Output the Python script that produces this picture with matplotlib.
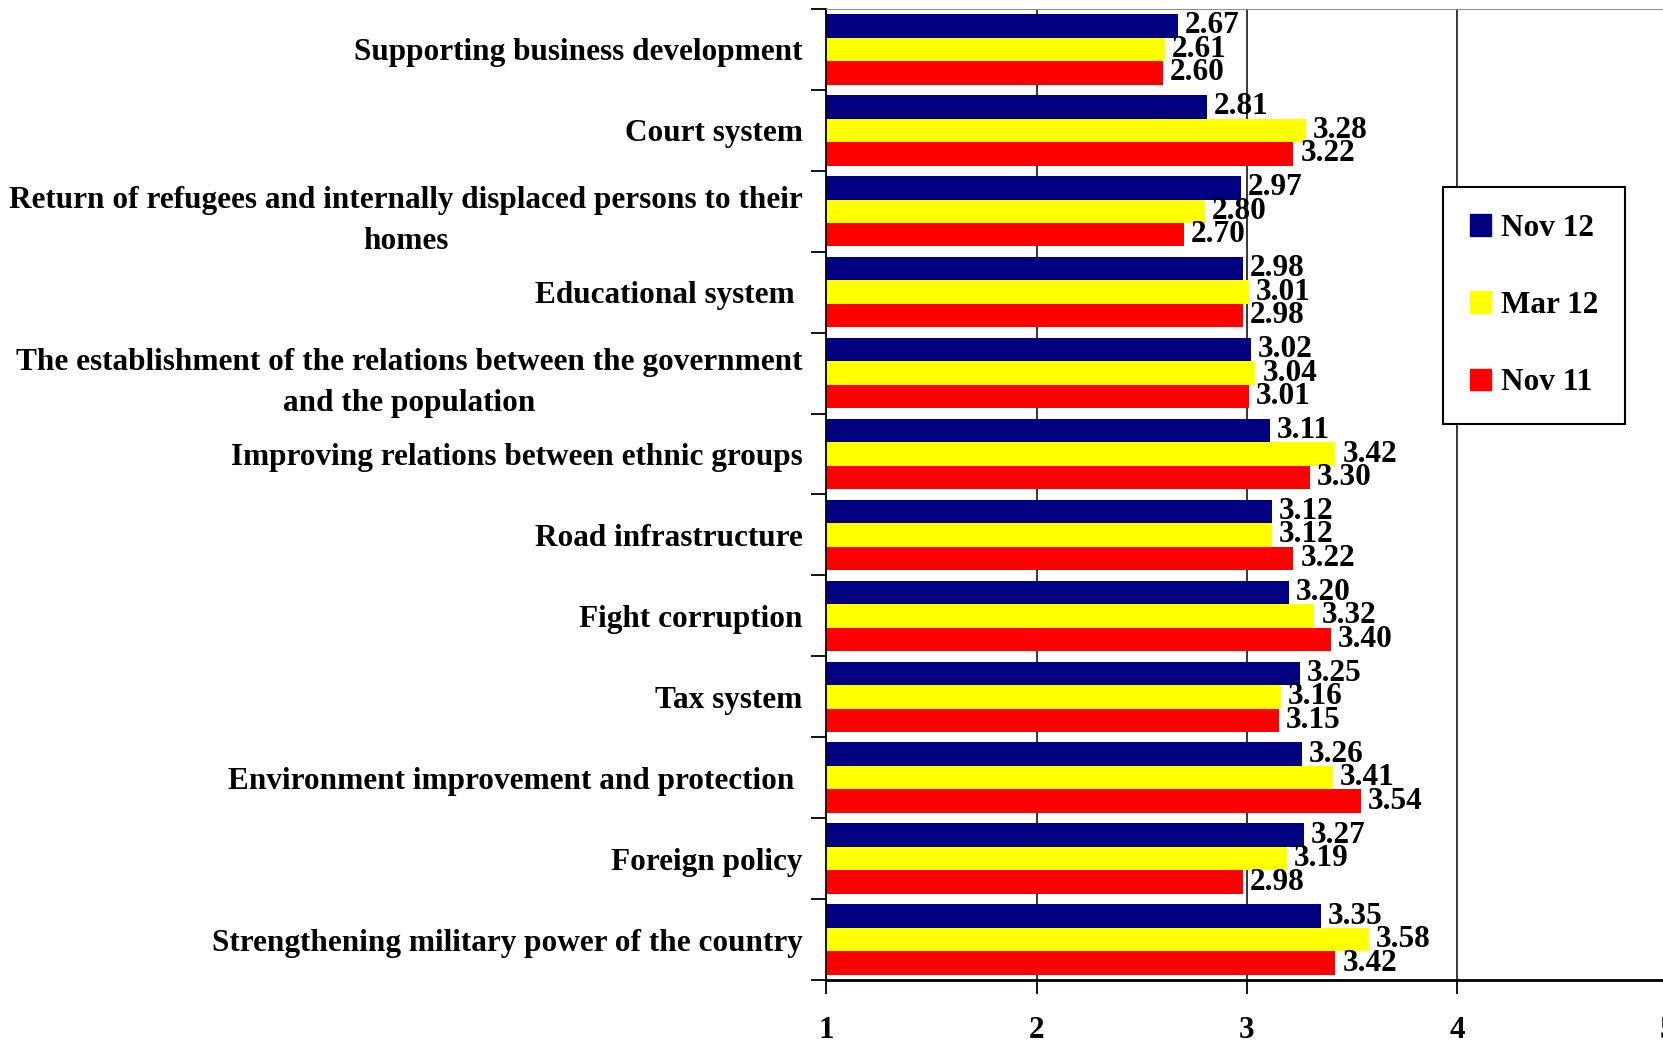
"""Mean ratings of government performance areas, three survey waves (horizontal bars)."""
import matplotlib
matplotlib.use("Agg")
import matplotlib.pyplot as plt
import numpy as np
from matplotlib.patches import Patch

categories = [
    "Supporting business development",
    "Court system",
    "Return of refugees and internally displaced persons to their\nhomes",
    "Educational system ",
    "The establishment of the relations between the government\nand the population",
    "Improving relations between ethnic groups",
    "Road infrastructure",
    "Fight corruption",
    "Tax system",
    "Environment improvement and protection ",
    "Foreign policy",
    "Strengthening military power of the country",
]
nov12 = [2.67, 2.81, 2.97, 2.98, 3.02, 3.11, 3.12, 3.20, 3.25, 3.26, 3.27, 3.35]
mar12 = [2.61, 3.28, 2.80, 3.01, 3.04, 3.42, 3.12, 3.32, 3.16, 3.41, 3.19, 3.58]
nov11 = [2.60, 3.22, 2.70, 2.98, 3.01, 3.30, 3.22, 3.40, 3.15, 3.54, 2.98, 3.42]
series = [("Nov 12", nov12, "#000080"), ("Mar 12", mar12, "#FFFF00"), ("Nov 11", nov11, "#FF0000")]
x_ticks = [1, 2, 3, 4, 5]

plt.rcParams["font.family"] = ["Liberation Serif", "DejaVu Serif"]
plt.rcParams["font.weight"] = "bold"
FS = 22.5

fig = plt.figure(figsize=(16.63, 10.41), dpi=100)
ax = fig.add_axes([0.4967, 0.0586, 0.5063, 0.9328])

y = np.arange(len(categories))
h = 0.29
for k, (name, vals, col) in enumerate(series):
    vals = np.array(vals)
    bars = ax.barh(y + (k - 1) * h, vals - 1, left=1, height=h, color=col, label=name)
    ax.bar_label(bars, labels=[f"{v:.2f}" for v in vals], padding=5,
                 fontsize=FS, fontweight="bold", clip_on=False)

ax.set_xlim(1, 5)
ax.set_ylim(len(categories) - 0.5, -0.5)
ax.set_xticks(x_ticks)
ax.set_xticklabels([str(t) for t in x_ticks], fontsize=FS, fontweight="bold")
ax.tick_params(axis="x", direction="out", length=10, width=1.3, pad=16)

# ticks at category boundaries, labels at centres
ax.set_yticks(np.arange(len(categories) + 1) - 0.5)
ax.set_yticklabels([])
ax.tick_params(axis="y", which="major", direction="out", length=11, width=1.3)
ax.set_yticks(y, minor=True)
ax.set_yticklabels(categories, minor=True, fontsize=FS, fontweight="bold",
                   multialignment="center", linespacing=1.55)
ax.tick_params(axis="y", which="minor", length=0, pad=17)

ax.xaxis.grid(True, color="black", lw=1.1)
ax.set_axisbelow(True)
ax.spines["left"].set_linewidth(1.3)
ax.spines["bottom"].set_linewidth(2)
ax.spines["top"].set_color("#909090")
ax.spines["right"].set_visible(False)

handles = [Patch(color=c, label=n) for n, _, c in series]
leg = fig.legend(handles=handles, loc="upper left", bbox_to_anchor=(1443 / 1663, 1 - 187 / 1041),
                 prop={"weight": "bold", "size": FS}, frameon=True, fancybox=False,
                 edgecolor="black", framealpha=1, handlelength=0.7, handleheight=0.7,
                 handletextpad=0.3, labelspacing=1.55, borderpad=0.85, borderaxespad=0)
leg.get_frame().set_linewidth(1.5)

fig.savefig("out.png", dpi=100)
